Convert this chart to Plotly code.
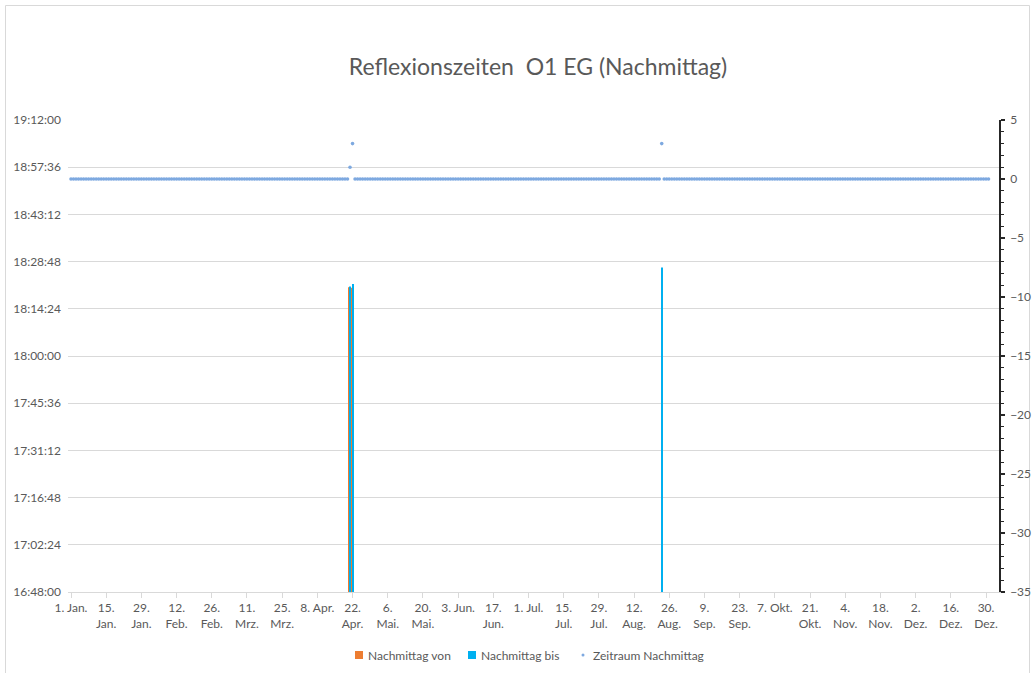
import datetime as dt
import plotly.graph_objects as go

# ---- data ----
year_start = "2024-01-01"
n_days = 366

von_dates = ["2024-04-21", "2024-04-22"]
von_times = ["18:21:00", "18:20:50"]

bis_dates = ["2024-04-21", "2024-04-22", "2024-08-23"]
bis_times = ["18:21:10", "18:22:00", "18:27:00"]

# Zeitraum Nachmittag: 0 on every day, except these days
zeitraum_nonzero = {"2024-04-21": 1, "2024-04-22": 3, "2024-08-23": 3}

y_tick_labels = ["16:48:00", "17:02:24", "17:16:48", "17:31:12", "17:45:36",
                 "18:00:00", "18:14:24", "18:28:48", "18:43:12", "18:57:36", "19:12:00"]

x_tick_dates = ["2024-01-01", "2024-01-15", "2024-01-29", "2024-02-12", "2024-02-26",
                "2024-03-11", "2024-03-25", "2024-04-08", "2024-04-22", "2024-05-06",
                "2024-05-20", "2024-06-03", "2024-06-17", "2024-07-01", "2024-07-15",
                "2024-07-29", "2024-08-12", "2024-08-26", "2024-09-09", "2024-09-23",
                "2024-10-07", "2024-10-21", "2024-11-04", "2024-11-18", "2024-12-02",
                "2024-12-16", "2024-12-30"]
x_tick_text = ["1. Jan.", "15.<br>Jan.", "29.<br>Jan.", "12.<br>Feb.", "26.<br>Feb.",
               "11.<br>Mrz.", "25.<br>Mrz.", "8. Apr.", "22.<br>Apr.", "6.<br>Mai.",
               "20.<br>Mai.", "3. Jun.", "17.<br>Jun.", "1. Jul.", "15.<br>Jul.",
               "29.<br>Jul.", "12.<br>Aug.", "26.<br>Aug.", "9.<br>Sep.", "23.<br>Sep.",
               "7. Okt.", "21.<br>Okt.", "4.<br>Nov.", "18.<br>Nov.", "2.<br>Dez.",
               "16.<br>Dez.", "30.<br>Dez."]

y2_ticks = [5, 0, -5, -10, -15, -20, -25, -30, -35]

legend_names = ["Nachmittag von", "Nachmittag bis", "Zeitraum Nachmittag"]
COL_VON = "#ed7d31"
COL_BIS = "#00b0f0"
COL_ZEIT = "#7ea9e0"


def to_sec(t):
    h, m, s = (int(v) for v in t.split(":"))
    return h * 3600 + m * 60 + s


start = dt.date.fromisoformat(year_start)
all_days = [(start + dt.timedelta(days=i)).isoformat() for i in range(n_days)]
zeit_x = [d for d in all_days if zeitraum_nonzero.get(d, 0) == 0]
zeit_y = [0 for d in zeit_x]
nz_x = list(zeitraum_nonzero.keys())
nz_y = list(zeitraum_nonzero.values())

y_tick_vals = [to_sec(t) for t in y_tick_labels]

FONT = "Lato"
GREY = "#595959"

W, H = 1033, 673
PL, PR, PT, PB = 68, 999, 120, 592  # plot area edges (px)

DAY_MS = 86400000
bar_w = 0.42 * DAY_MS

fig = go.Figure()
fig.add_trace(go.Bar(x=von_dates, y=[to_sec(t) for t in von_times], name=legend_names[0],
                     width=[bar_w] * len(von_dates), offset=-0.5 * DAY_MS * 0.9,
                     marker=dict(color=COL_VON, line=dict(width=0)), showlegend=False))
fig.add_trace(go.Bar(x=bis_dates, y=[to_sec(t) for t in bis_times], name=legend_names[1],
                     width=[bar_w] * len(bis_dates), offset=-0.5 * DAY_MS * 0.9 + bar_w,
                     marker=dict(color=COL_BIS, line=dict(width=0)), showlegend=False))
fig.add_trace(go.Scatter(x=zeit_x + nz_x, y=zeit_y + nz_y, name=legend_names[2],
                         mode="markers", yaxis="y2", showlegend=False,
                         marker=dict(color=COL_ZEIT, size=3.6, line=dict(width=0))))

# axis: 1 Jan at x=71, 30 Dec at x=986
ppd = (986 - 71) / 364.0
x_left = (dt.datetime(2024, 1, 1) - dt.timedelta(days=(71 - PL) / ppd)).isoformat()
x_right = (dt.datetime(2024, 1, 1) + dt.timedelta(days=364 + (PR - 986) / ppd)).isoformat()


def px(x):
    return (x - PL) / (PR - PL)


def py(y):
    return (PB - y) / (PB - PT)


shapes = [dict(type="path", xref="paper", yref="paper",
               path="M {:.5f},{:.5f} L {:.5f},{:.5f} L {:.5f},{:.5f} L {:.5f},{:.5f}".format(
                   px(5.5), py(H), px(5.5), py(5.5), px(1029.5), py(5.5), px(1029.5), py(H)),
               line=dict(color="#d9d9d9", width=1), layer="below")]
annotations = []
# custom legend
leg_y = 655
leg_items = [(355, "square", COL_VON, legend_names[0]),
             (468, "square", COL_BIS, legend_names[1]),
             (580, "dot", COL_ZEIT, legend_names[2])]
for x0, kind, col, name in leg_items:
    if kind == "square":
        shapes.append(dict(type="rect", xref="paper", yref="paper",
                           x0=px(x0), x1=px(x0 + 8), y0=py(leg_y + 4), y1=py(leg_y - 4),
                           fillcolor=col, line=dict(width=0)))
    else:
        shapes.append(dict(type="circle", xref="paper", yref="paper",
                           x0=px(x0 + 1.5), x1=px(x0 + 4.5), y0=py(leg_y + 1.5),
                           y1=py(leg_y - 1.5), fillcolor=col, line=dict(width=0)))
    annotations.append(dict(xref="paper", yref="paper", x=px(x0 + 11), y=py(leg_y),
                            xanchor="left", yanchor="middle", showarrow=False,
                            text=name, font=dict(family=FONT, size=12, color=GREY)))

fig.update_layout(
    width=W, height=H,
    margin=dict(l=PL, r=W - PR, t=PT, b=H - PB, autoexpand=False),
    paper_bgcolor="white", plot_bgcolor="white",
    font=dict(family=FONT, color=GREY, size=12),
    title=dict(text="Reflexionszeiten  O1 EG (Nachmittag)", x=px(538), xref="paper",
               xanchor="center", y=1 - 67 / H, yanchor="middle",
               font=dict(family=FONT, size=23, color=GREY)),
    barmode="overlay",
    showlegend=False,
    xaxis=dict(type="date", range=[x_left, x_right], automargin=False,
               tickmode="array", tickvals=x_tick_dates, ticktext=x_tick_text,
               showgrid=False, showline=True, linecolor="#d9d9d9", linewidth=1,
               ticks="outside", ticklen=5, tickcolor="#d9d9d9",
               tickfont=dict(size=12, color=GREY), tickangle=0, zeroline=False),
    yaxis=dict(range=[y_tick_vals[0], y_tick_vals[-1]], tickmode="array",
               tickvals=y_tick_vals, ticktext=y_tick_labels, automargin=False,
               showgrid=True, gridcolor="#d9d9d9", gridwidth=1,
               showline=False, ticks="", zeroline=False,
               tickfont=dict(size=12, color=GREY), ticklabelstandoff=6),
    yaxis2=dict(overlaying="y", side="right", range=[-35, 5], automargin=False,
                tickmode="array", tickvals=y2_ticks,
                showgrid=False, zeroline=False,
                showline=True, linecolor="#262626", linewidth=1.5,
                ticks="outside", ticklen=4, tickcolor="#262626", tickwidth=1.5,
                minor=dict(dtick=1, ticks="outside", ticklen=3, tickcolor="#262626",
                           tickwidth=1.2, showgrid=False),
                tickfont=dict(size=12, color=GREY), ticklabelstandoff=3),
    shapes=shapes,
    annotations=annotations,
)

fig.write_html("out.html",
               config={"displayModeBar": False},
               post_script="document.body.style.margin='0';"
                           "document.body.style.overflow='hidden';"
                           "document.documentElement.style.overflow='hidden';")
